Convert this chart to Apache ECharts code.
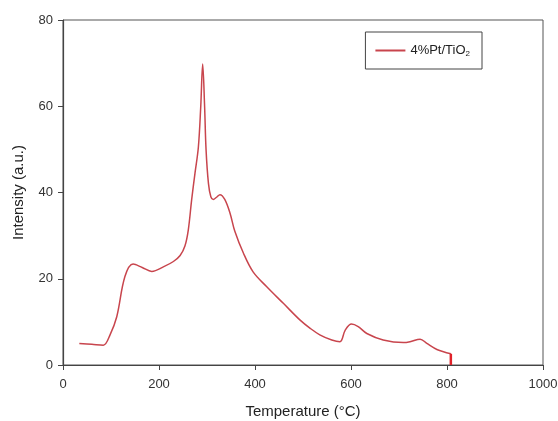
<!DOCTYPE html>
<html>
<head>
<meta charset="utf-8">
<script src="https://cdn.jsdelivr.net/npm/echarts@6/dist/echarts.min.js"></script>
<style>
  html, body { margin: 0; padding: 0; background: #fff; }
  #chart { width: 558px; height: 421px; }
</style>
</head>
<body>
<div id="chart"></div>
<script>
// 温度 (°C) 与强度
const temps = [34, 60, 84, 98, 112, 129, 146, 165, 185, 210, 230, 244, 254, 261, 268, 275, 282, 287, 291, 295, 298, 303, 308, 313, 320, 327, 337, 348, 358, 376, 396, 424, 459, 494, 515, 535, 560, 577, 588, 601, 615, 633, 667, 709, 723, 744, 758, 779, 808];
const intensity = [5.0, 4.8, 4.6, 7.0, 11.2, 20.5, 23.4, 22.6, 21.7, 22.8, 24.0, 25.4, 27.6, 31.3, 38.3, 44.5, 50.5, 60.0, 69.8, 60.0, 50.0, 42.1, 39.0, 38.4, 38.9, 39.5, 38.4, 35.2, 31.0, 25.9, 21.6, 18.2, 14.3, 10.4, 8.5, 7.0, 5.8, 5.4, 8.1, 9.5, 8.9, 7.3, 5.8, 5.2, 5.4, 6.0, 5.0, 3.6, 2.6];
// 末端的竖直下降
const dropTemps = [808, 808];
const dropIntensity = [2.6, 0];
const seriesName = "4%Pt/TiO₂";

const chart = echarts.init(document.getElementById("chart"));
const font = "Liberation Sans, Arial, sans-serif";

const points = temps.map((t, i) => [t, intensity[i]]);
const dropPoints = dropTemps.map((t, i) => [t, dropIntensity[i]]);

const option = {
  animation: false,
  backgroundColor: "#fff",
  grid: {
    left: 63,
    right: 15,
    top: 20,
    bottom: 56,
    show: true,
    borderColor: "#555",
    borderWidth: 1,
    outerBoundsMode: "none",
    containLabel: false,
  },
  legend: {
    show: true,
    right: 76,
    top: 32,
    orient: "vertical",
    borderColor: "#444",
    borderWidth: 1,
    padding: [12, 12, 11, 10],
    itemWidth: 30,
    itemHeight: 2,
    icon: "rect",
    textStyle: {
      fontFamily: font,
      fontSize: 13,
      color: "#222",
      rich: {
        sub: { fontSize: 8, verticalAlign: "bottom", padding: [7, 0, 0, 0], fontFamily: font, color: "#222" },
      },
    },
    formatter: function () {
      return "4%Pt/TiO{sub|2}";
    },
    data: [seriesName],
  },
  xAxis: {
    type: "value",
    min: 0,
    max: 1000,
    interval: 200,
    name: "Temperature (°C)",
    nameLocation: "middle",
    nameGap: 39,
    nameTextStyle: { fontFamily: font, fontSize: 15, color: "#222" },
    axisLine: { show: true, lineStyle: { color: "#444", width: 1.2 } },
    axisTick: { show: true, inside: false, length: 5, lineStyle: { color: "#444" } },
    axisLabel: {
      fontFamily: font,
      fontSize: 13,
      color: "#333",
      margin: 13,
      formatter: function (v) {
        return String(v);
      },
    },
    splitLine: { show: false },
  },
  yAxis: {
    type: "value",
    min: 0,
    max: 80,
    interval: 20,
    name: "Intensity (a.u.)",
    nameLocation: "middle",
    nameGap: 37,
    nameRotate: 90,
    nameTextStyle: { fontFamily: font, fontSize: 15, color: "#222" },
    axisLine: { show: true, lineStyle: { color: "#444", width: 1.2 } },
    axisTick: { show: true, inside: false, length: 5, lineStyle: { color: "#444" } },
    axisLabel: { fontFamily: font, fontSize: 13, color: "#333", margin: 10 },
    splitLine: { show: false },
  },
  series: [
    {
      name: seriesName,
      type: "line",
      data: points,
      smooth: 0.35,
      symbol: "none",
      lineStyle: { color: "#c8454d", width: 1.5 },
      itemStyle: { color: "#c8454d" },
    },
    {
      name: "drop",
      type: "line",
      data: dropPoints,
      symbol: "none",
      lineStyle: { color: "#e0222a", width: 2.5 },
      itemStyle: { color: "#e0222a" },
    },
  ],
};
chart.setOption(option);
</script>
</body>
</html>
